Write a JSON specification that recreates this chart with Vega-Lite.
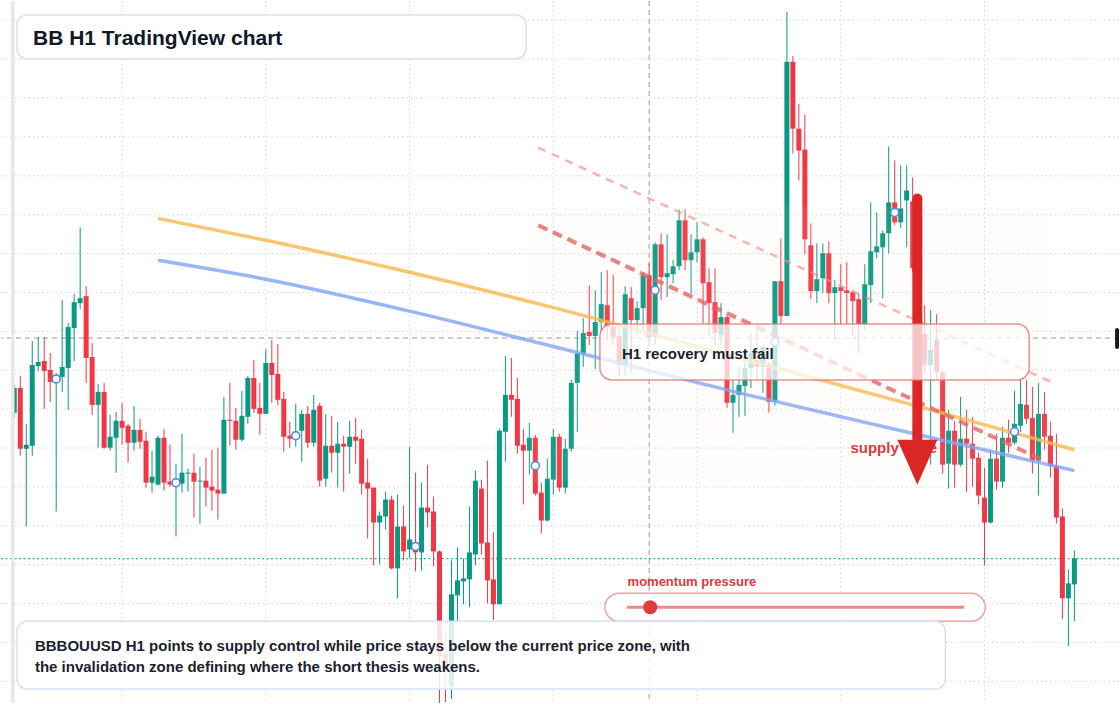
{
  "$schema": "https://vega.github.io/schema/vega-lite/v6.json",
  "width": 1120,
  "height": 704,
  "autosize": {"type": "fit", "contains": "padding"},
  "padding": 0,
  "background": "#ffffff",
  "config": {"view": {"stroke": null}, "text": {"font": "Liberation Sans"}, "scale": {"continuousPadding": 0}},
  "datasets": {
    "candles": [
{"i":0,"o":391,"h":419,"l":386,"c":416},
{"i":1,"o":416,"h":428,"l":348,"c":355},
{"i":2,"o":355,"h":380,"l":277,"c":359},
{"i":3,"o":358,"h":463,"l":348,"c":439},
{"i":4,"o":438,"h":467,"l":433,"c":442},
{"i":5,"o":443,"h":467,"l":395,"c":433},
{"i":6,"o":434,"h":451,"l":402,"c":422},
{"i":7,"o":422,"h":431,"l":292,"c":428},
{"i":8,"o":427,"h":504,"l":412,"c":437},
{"i":9,"o":436,"h":481,"l":394,"c":477},
{"i":10,"o":476,"h":510,"l":443,"c":502},
{"i":11,"o":501,"h":577,"l":495,"c":506},
{"i":12,"o":508,"h":518,"l":421,"c":446},
{"i":13,"o":447,"h":461,"l":389,"c":399},
{"i":14,"o":399,"h":420,"l":356,"c":412},
{"i":15,"o":412,"h":421,"l":355,"c":356},
{"i":16,"o":356,"h":389,"l":353,"c":367},
{"i":17,"o":366,"h":392,"l":331,"c":383},
{"i":18,"o":383,"h":401,"l":359,"c":376},
{"i":19,"o":378,"h":380,"l":341,"c":361},
{"i":20,"o":361,"h":398,"l":353,"c":374},
{"i":21,"o":374,"h":385,"l":355,"c":362},
{"i":22,"o":363,"h":372,"l":316,"c":321},
{"i":23,"o":321,"h":353,"l":311,"c":327},
{"i":24,"o":319,"h":368,"l":318,"c":366},
{"i":25,"o":366,"h":375,"l":313,"c":321},
{"i":26,"o":322,"h":359,"l":317,"c":319},
{"i":27,"o":318,"h":340,"l":267,"c":324},
{"i":28,"o":320,"h":370,"l":311,"c":331},
{"i":29,"o":330,"h":335,"l":312,"c":331},
{"i":30,"o":331,"h":350,"l":286,"c":322},
{"i":31,"o":322,"h":337,"l":280,"c":323},
{"i":32,"o":323,"h":346,"l":297,"c":316},
{"i":33,"o":317,"h":354,"l":293,"c":313},
{"i":34,"o":314,"h":356,"l":284,"c":310},
{"i":35,"o":310,"h":407,"l":310,"c":384},
{"i":36,"o":384,"h":421,"l":358,"c":383},
{"i":37,"o":383,"h":396,"l":354,"c":364},
{"i":38,"o":364,"h":413,"l":362,"c":388},
{"i":39,"o":387,"h":428,"l":380,"c":426},
{"i":40,"o":426,"h":444,"l":391,"c":395},
{"i":41,"o":396,"h":421,"l":369,"c":390},
{"i":42,"o":390,"h":455,"l":390,"c":441},
{"i":43,"o":441,"h":464,"l":401,"c":429},
{"i":44,"o":430,"h":460,"l":399,"c":404},
{"i":45,"o":405,"h":412,"l":352,"c":367},
{"i":46,"o":368,"h":382,"l":356,"c":365},
{"i":47,"o":366,"h":400,"l":357,"c":372},
{"i":48,"o":373,"h":394,"l":342,"c":390},
{"i":49,"o":390,"h":398,"l":356,"c":361},
{"i":50,"o":361,"h":409,"l":357,"c":394},
{"i":51,"o":398,"h":401,"l":317,"c":323},
{"i":52,"o":325,"h":390,"l":317,"c":358},
{"i":53,"o":358,"h":388,"l":331,"c":351},
{"i":54,"o":351,"h":382,"l":316,"c":360},
{"i":55,"o":360,"h":368,"l":312,"c":357},
{"i":56,"o":357,"h":383,"l":330,"c":367},
{"i":57,"o":367,"h":386,"l":340,"c":363},
{"i":58,"o":365,"h":374,"l":309,"c":320},
{"i":59,"o":321,"h":345,"l":265,"c":315},
{"i":60,"o":316,"h":316,"l":238,"c":281},
{"i":61,"o":281,"h":292,"l":239,"c":288},
{"i":62,"o":287,"h":312,"l":274,"c":304},
{"i":63,"o":304,"h":308,"l":234,"c":235},
{"i":64,"o":235,"h":309,"l":205,"c":277},
{"i":65,"o":277,"h":298,"l":243,"c":252},
{"i":66,"o":254,"h":357,"l":245,"c":264},
{"i":67,"o":260,"h":331,"l":232,"c":251},
{"i":68,"o":251,"h":321,"l":233,"c":296},
{"i":69,"o":296,"h":339,"l":276,"c":291},
{"i":70,"o":292,"h":307,"l":237,"c":252},
{"i":71,"o":252,"h":253,"l":100,"c":147},
{"i":72,"o":149,"h":174,"l":101,"c":136},
{"i":73,"o":116,"h":243,"l":104,"c":209},
{"i":74,"o":208,"h":256,"l":181,"c":223},
{"i":75,"o":222,"h":245,"l":199,"c":225},
{"i":76,"o":224,"h":297,"l":196,"c":251},
{"i":77,"o":249,"h":333,"l":238,"c":323},
{"i":78,"o":315,"h":324,"l":249,"c":260},
{"i":79,"o":261,"h":343,"l":200,"c":223},
{"i":80,"o":224,"h":271,"l":183,"c":199},
{"i":81,"o":199,"h":375,"l":199,"c":373},
{"i":82,"o":372,"h":448,"l":342,"c":409},
{"i":83,"o":409,"h":446,"l":387,"c":404},
{"i":84,"o":405,"h":426,"l":350,"c":358},
{"i":85,"o":359,"h":375,"l":299,"c":353},
{"i":86,"o":353,"h":381,"l":329,"c":366},
{"i":87,"o":366,"h":369,"l":308,"c":310},
{"i":88,"o":311,"h":321,"l":270,"c":283},
{"i":89,"o":283,"h":345,"l":282,"c":325},
{"i":90,"o":324,"h":375,"l":309,"c":367},
{"i":91,"o":367,"h":370,"l":312,"c":316},
{"i":92,"o":316,"h":365,"l":310,"c":355},
{"i":93,"o":355,"h":424,"l":352,"c":421},
{"i":94,"o":421,"h":473,"l":372,"c":451},
{"i":95,"o":450,"h":486,"l":437,"c":471},
{"i":96,"o":472,"h":519,"l":459,"c":468},
{"i":97,"o":468,"h":514,"l":435,"c":482},
{"i":98,"o":482,"h":532,"l":472,"c":500},
{"i":99,"o":499,"h":534,"l":464,"c":477},
{"i":100,"o":477,"h":529,"l":459,"c":467},
{"i":101,"o":468,"h":474,"l":427,"c":439},
{"i":102,"o":439,"h":518,"l":428,"c":510},
{"i":103,"o":506,"h":517,"l":432,"c":484},
{"i":104,"o":484,"h":503,"l":469,"c":496},
{"i":105,"o":496,"h":532,"l":474,"c":529},
{"i":106,"o":529,"h":541,"l":459,"c":467},
{"i":107,"o":467,"h":562,"l":459,"c":560},
{"i":108,"o":560,"h":571,"l":504,"c":527},
{"i":109,"o":527,"h":570,"l":507,"c":531},
{"i":110,"o":530,"h":544,"l":521,"c":538},
{"i":111,"o":538,"h":595,"l":534,"c":584},
{"i":112,"o":584,"h":595,"l":534,"c":544},
{"i":113,"o":544,"h":570,"l":510,"c":552},
{"i":114,"o":552,"h":582,"l":542,"c":565},
{"i":115,"o":565,"h":567,"l":481,"c":521},
{"i":116,"o":522,"h":536,"l":468,"c":501},
{"i":117,"o":502,"h":536,"l":459,"c":471},
{"i":118,"o":469,"h":501,"l":459,"c":487},
{"i":119,"o":487,"h":489,"l":396,"c":401},
{"i":120,"o":401,"h":424,"l":371,"c":409},
{"i":121,"o":409,"h":437,"l":387,"c":419},
{"i":122,"o":418,"h":442,"l":388,"c":436},
{"i":123,"o":436,"h":471,"l":416,"c":451},
{"i":124,"o":444,"h":476,"l":424,"c":437},
{"i":125,"o":437,"h":459,"l":411,"c":457},
{"i":126,"o":440,"h":442,"l":391,"c":402},
{"i":127,"o":402,"h":523,"l":398,"c":523},
{"i":128,"o":523,"h":566,"l":479,"c":488},
{"i":129,"o":488,"h":793,"l":488,"c":743},
{"i":130,"o":743,"h":749,"l":651,"c":676},
{"i":131,"o":676,"h":701,"l":624,"c":654},
{"i":132,"o":655,"h":690,"l":550,"c":565},
{"i":133,"o":559,"h":581,"l":505,"c":513},
{"i":134,"o":513,"h":561,"l":501,"c":525},
{"i":135,"o":526,"h":561,"l":511,"c":551},
{"i":136,"o":551,"h":563,"l":501,"c":511},
{"i":137,"o":511,"h":524,"l":464,"c":517},
{"i":138,"o":517,"h":540,"l":479,"c":513},
{"i":139,"o":514,"h":542,"l":479,"c":511},
{"i":140,"o":512,"h":514,"l":469,"c":503},
{"i":141,"o":505,"h":511,"l":451,"c":480},
{"i":142,"o":479,"h":540,"l":474,"c":520},
{"i":143,"o":519,"h":602,"l":501,"c":553},
{"i":144,"o":552,"h":592,"l":546,"c":558},
{"i":145,"o":557,"h":574,"l":506,"c":571},
{"i":146,"o":571,"h":658,"l":551,"c":602},
{"i":147,"o":602,"h":644,"l":579,"c":582},
{"i":148,"o":582,"h":639,"l":576,"c":596},
{"i":149,"o":604,"h":639,"l":557,"c":614},
{"i":150,"o":603,"h":627,"l":532,"c":536},
{"i":151,"o":536,"h":542,"l":459,"c":470},
{"i":152,"o":470,"h":499,"l":431,"c":439},
{"i":153,"o":439,"h":494,"l":339,"c":454},
{"i":154,"o":464,"h":490,"l":424,"c":432},
{"i":155,"o":432,"h":433,"l":330,"c":339},
{"i":156,"o":340,"h":394,"l":315,"c":373},
{"i":157,"o":373,"h":383,"l":316,"c":339},
{"i":158,"o":339,"h":407,"l":337,"c":365},
{"i":159,"o":365,"h":394,"l":312,"c":360},
{"i":160,"o":360,"h":387,"l":317,"c":345},
{"i":161,"o":346,"h":351,"l":299,"c":308},
{"i":162,"o":306,"h":336,"l":238,"c":281},
{"i":163,"o":281,"h":354,"l":280,"c":345},
{"i":164,"o":345,"h":370,"l":314,"c":322},
{"i":165,"o":322,"h":377,"l":316,"c":366},
{"i":166,"o":366,"h":384,"l":351,"c":361},
{"i":167,"o":361,"h":413,"l":359,"c":380},
{"i":168,"o":378,"h":424,"l":372,"c":400},
{"i":169,"o":399,"h":424,"l":380,"c":385},
{"i":170,"o":386,"h":417,"l":330,"c":343},
{"i":171,"o":343,"h":421,"l":308,"c":390},
{"i":172,"o":390,"h":412,"l":354,"c":367},
{"i":173,"o":368,"h":382,"l":326,"c":338},
{"i":174,"o":338,"h":370,"l":280,"c":286},
{"i":175,"o":287,"h":295,"l":184,"c":205},
{"i":176,"o":205,"h":234,"l":157,"c":220},
{"i":177,"o":219,"h":253,"l":182,"c":245}
    ]
  },
  "layer": [
    {
      "data": {"values": [{"gy":784.7},{"gy":745.7},{"gy":706.7},{"gy":667.7},{"gy":628.7},{"gy":589.7},{"gy":550.7},{"gy":511.7},{"gy":472.7},{"gy":433.7},{"gy":394.7},{"gy":355.7},{"gy":316.7},{"gy":277.7},{"gy":238.7},{"gy":199.7},{"gy":160.7},{"gy":121.7}]},
      "mark": {"type": "rule", "color": "#d2d2d2", "strokeWidth": 1, "strokeDash": [1.5, 3]},
      "encoding": {"y": {"field": "gy", "type": "quantitative", "scale": {"domain": [100, 804], "nice": false, "zero": false, "padding": 0}, "axis": null}}
    },
    {
      "data": {"values": [{"gx":18},{"gx":42},{"gx":66},{"gx":90},{"gx":114},{"gx":138},{"gx":162}]},
      "mark": {"type": "rule", "color": "#d2d2d2", "strokeWidth": 1, "strokeDash": [1.5, 3]},
      "encoding": {"x": {"field": "gx", "type": "quantitative", "scale": {"domain": [-2.2167, 184.45], "nice": false, "zero": false, "padding": 0}, "axis": null}}
    },
    {
      "data": {"values": [{"cy": 466}]},
      "mark": {"type": "rule", "color": "#9a9a9a", "strokeWidth": 1, "strokeDash": [5, 4]},
      "encoding": {"y": {"field": "cy", "type": "quantitative", "scale": {"domain": [100, 804], "nice": false, "zero": false, "padding": 0}, "axis": null}}
    },
    {
      "data": {"values": [{"cx": 106}]},
      "mark": {"type": "rule", "color": "#9a9a9a", "strokeWidth": 1, "strokeDash": [5, 4]},
      "encoding": {"x": {"field": "cx", "type": "quantitative", "scale": {"domain": [-2.2167, 184.45], "nice": false, "zero": false, "padding": 0}, "axis": null}}
    },
    {
      "data": {"values": [{"py": 244.7}]},
      "mark": {"type": "rule", "color": "#089981", "strokeWidth": 1, "strokeDash": [2, 2.5]},
      "encoding": {"y": {"field": "py", "type": "quantitative", "scale": {"domain": [100, 804], "nice": false, "zero": false, "padding": 0}, "axis": null}}
    },
    {
      "data": {"name": "candles"},
      "mark": {"type": "rule", "strokeWidth": 1},
      "encoding": {
        "x": {"field": "i", "type": "quantitative", "scale": {"domain": [-2.2167, 184.45], "nice": false, "zero": false, "padding": 0}, "axis": null},
        "y": {"field": "l", "type": "quantitative", "scale": {"domain": [100, 804], "nice": false, "zero": false, "padding": 0}, "axis": null},
        "y2": {"field": "h"},
        "color": {"condition": {"test": "datum.c >= datum.o", "value": "#089981"}, "value": "#f23645"}
      }
    },
    {
      "data": {"name": "candles"},
      "mark": {"type": "bar", "size": 5},
      "encoding": {
        "x": {"field": "i", "type": "quantitative", "scale": {"domain": [-2.2167, 184.45], "nice": false, "zero": false, "padding": 0}, "axis": null},
        "y": {"field": "o", "type": "quantitative", "scale": {"domain": [100, 804], "nice": false, "zero": false, "padding": 0}, "axis": null},
        "y2": {"field": "c"},
        "color": {"condition": {"test": "datum.c >= datum.o", "value": "#089981"}, "value": "#f23645"}
      }
    },
    {
      "data": {"values": [{"x1": -0.55, "x2": 0.05, "y1": 100, "y2": 804}]},
      "mark": {"type": "rect", "color": "#e8e8eb"},
      "encoding": {
        "x": {"field": "x1", "type": "quantitative", "scale": {"domain": [-2.2167, 184.45], "nice": false, "zero": false, "padding": 0}, "axis": null},
        "x2": {"field": "x2"},
        "y": {"field": "y1", "type": "quantitative", "scale": {"domain": [100, 804], "nice": false, "zero": false, "padding": 0}, "axis": null},
        "y2": {"field": "y2"}
      }
    },
    {
      "data": {"values": [
        {"s":"ma","i":24,"p":586},{"s":"ma","i":42,"p":564},{"s":"ma","i":66,"p":532},{"s":"ma","i":91,"p":495},{"s":"ma","i":121,"p":446},{"s":"ma","i":150,"p":399},{"s":"ma","i":177,"p":354}
      ]},
      "mark": {"type": "line", "color": "#f7b84b", "opacity": 0.8, "strokeWidth": 3.5, "interpolate": "monotone"},
      "encoding": {
        "x": {"field": "i", "type": "quantitative", "scale": {"domain": [-2.2167, 184.45], "nice": false, "zero": false, "padding": 0}, "axis": null},
        "y": {"field": "p", "type": "quantitative", "scale": {"domain": [100, 804], "nice": false, "zero": false, "padding": 0}, "axis": null}
      }
    },
    {
      "data": {"values": [
        {"s":"mb","i":24,"p":544},{"s":"mb","i":42,"p":525},{"s":"mb","i":66,"p":493},{"s":"mb","i":91,"p":456},{"s":"mb","i":121,"p":411},{"s":"mb","i":151,"p":369},{"s":"mb","i":177,"p":333}
      ]},
      "mark": {"type": "line", "color": "#7ea2f5", "opacity": 0.8, "strokeWidth": 3.5, "interpolate": "monotone"},
      "encoding": {
        "x": {"field": "i", "type": "quantitative", "scale": {"domain": [-2.2167, 184.45], "nice": false, "zero": false, "padding": 0}, "axis": null},
        "y": {"field": "p", "type": "quantitative", "scale": {"domain": [100, 804], "nice": false, "zero": false, "padding": 0}, "axis": null}
      }
    },
    {
      "data": {"values": [{"i":87.45,"p":657},{"i":173.1,"p":422}]},
      "mark": {"type": "line", "color": "#f08c8c", "opacity": 0.65, "strokeWidth": 2.5, "strokeDash": [8, 7]},
      "encoding": {
        "x": {"field": "i", "type": "quantitative", "scale": {"domain": [-2.2167, 184.45], "nice": false, "zero": false, "padding": 0}, "axis": null},
        "y": {"field": "p", "type": "quantitative", "scale": {"domain": [100, 804], "nice": false, "zero": false, "padding": 0}, "axis": null}
      }
    },
    {
      "data": {"values": [{"i":87.5,"p":579},{"i":171.6,"p":344}]},
      "mark": {"type": "line", "color": "#e45c5c", "opacity": 0.8, "strokeWidth": 4, "strokeDash": [10, 6]},
      "encoding": {
        "x": {"field": "i", "type": "quantitative", "scale": {"domain": [-2.2167, 184.45], "nice": false, "zero": false, "padding": 0}, "axis": null},
        "y": {"field": "p", "type": "quantitative", "scale": {"domain": [100, 804], "nice": false, "zero": false, "padding": 0}, "axis": null}
      }
    },
    {
      "data": {"values": [{"i":7,"p":425},{"i":27,"p":321},{"i":47,"p":368},{"i":67,"p":257},{"i":87,"p":338},{"i":107,"p":514},{"i":127,"p":462},{"i":147,"p":592},{"i":167,"p":372}]},
      "mark": {"type": "point", "shape": "circle", "size": 64, "filled": true, "fill": "#ffffff", "stroke": "#4a7cf0", "strokeWidth": 1.5, "opacity": 1},
      "encoding": {
        "x": {"field": "i", "type": "quantitative", "scale": {"domain": [-2.2167, 184.45], "nice": false, "zero": false, "padding": 0}, "axis": null},
        "y": {"field": "p", "type": "quantitative", "scale": {"domain": [100, 804], "nice": false, "zero": false, "padding": 0}, "axis": null}
      }
    },
    {
      "data": {"values": [{"x1": 85.62, "x2": 173.3, "y1": 598, "y2": 322}]},
      "mark": {"type": "rect", "color": "#f3dccf", "opacity": 0.07, "cornerRadius": 8},
      "encoding": {
        "x": {"field": "x1", "type": "quantitative", "scale": {"domain": [-2.2167, 184.45], "nice": false, "zero": false, "padding": 0}, "axis": null},
        "x2": {"field": "x2"},
        "y": {"field": "y1", "type": "quantitative", "scale": {"domain": [100, 804], "nice": false, "zero": false, "padding": 0}, "axis": null},
        "y2": {"field": "y2"}
      }
    },
    {
      "data": {"values": [{"i": 139.6, "p": 356, "t": "supply zone"}]},
      "mark": {"type": "text", "align": "left", "baseline": "middle", "fontSize": 15, "fontWeight": "bold", "color": "#e0393e"},
      "encoding": {
        "x": {"field": "i", "type": "quantitative", "scale": {"domain": [-2.2167, 184.45], "nice": false, "zero": false, "padding": 0}, "axis": null},
        "y": {"field": "p", "type": "quantitative", "scale": {"domain": [100, 804], "nice": false, "zero": false, "padding": 0}, "axis": null},
        "text": {"field": "t"}
      }
    },
    {
      "data": {"values": [{"i": 150.78, "p1": 606, "p2": 356}]},
      "mark": {"type": "rule", "color": "#dc2626", "strokeWidth": 10, "strokeCap": "round"},
      "encoding": {
        "x": {"field": "i", "type": "quantitative", "scale": {"domain": [-2.2167, 184.45], "nice": false, "zero": false, "padding": 0}, "axis": null},
        "y": {"field": "p1", "type": "quantitative", "scale": {"domain": [100, 804], "nice": false, "zero": false, "padding": 0}, "axis": null},
        "y2": {"field": "p2"}
      }
    },
    {
      "data": {"values": [{"i": 150.78, "p": 341.5}]},
      "mark": {"type": "point", "shape": "M-1,-1.125L1,-1.125L0,1.125Z", "size": 1600, "filled": true, "color": "#dc2626", "opacity": 1},
      "encoding": {
        "x": {"field": "i", "type": "quantitative", "scale": {"domain": [-2.2167, 184.45], "nice": false, "zero": false, "padding": 0}, "axis": null},
        "y": {"field": "p", "type": "quantitative", "scale": {"domain": [100, 804], "nice": false, "zero": false, "padding": 0}, "axis": null}
      }
    },
    {
      "data": {"values": [{"x1": 97.78, "x2": 169.45, "y1": 480, "y2": 424}]},
      "mark": {"type": "rect", "fill": "#ffffff", "fillOpacity": 0.74, "stroke": "#e57373", "strokeOpacity": 0.8, "strokeWidth": 1.5, "cornerRadius": 12},
      "encoding": {
        "x": {"field": "x1", "type": "quantitative", "scale": {"domain": [-2.2167, 184.45], "nice": false, "zero": false, "padding": 0}, "axis": null},
        "x2": {"field": "x2"},
        "y": {"field": "y1", "type": "quantitative", "scale": {"domain": [100, 804], "nice": false, "zero": false, "padding": 0}, "axis": null},
        "y2": {"field": "y2"}
      }
    },
    {
      "data": {"values": [{"i": 101.45, "p": 450, "t": "H1 recovery must fail"}]},
      "mark": {"type": "text", "align": "left", "baseline": "middle", "fontSize": 15, "fontWeight": "bold", "color": "#1b2230"},
      "encoding": {
        "x": {"field": "i", "type": "quantitative", "scale": {"domain": [-2.2167, 184.45], "nice": false, "zero": false, "padding": 0}, "axis": null},
        "y": {"field": "p", "type": "quantitative", "scale": {"domain": [100, 804], "nice": false, "zero": false, "padding": 0}, "axis": null},
        "text": {"field": "t"}
      }
    },
    {
      "data": {"values": [{"x1": 98.62, "x2": 162.12, "y1": 210, "y2": 182}]},
      "mark": {"type": "rect", "fill": "#ffffff", "fillOpacity": 0.92, "stroke": "#f0a3a3", "strokeWidth": 1.5, "cornerRadius": 14},
      "encoding": {
        "x": {"field": "x1", "type": "quantitative", "scale": {"domain": [-2.2167, 184.45], "nice": false, "zero": false, "padding": 0}, "axis": null},
        "x2": {"field": "x2"},
        "y": {"field": "y1", "type": "quantitative", "scale": {"domain": [100, 804], "nice": false, "zero": false, "padding": 0}, "axis": null},
        "y2": {"field": "y2"}
      }
    },
    {
      "data": {"values": [{"x1": 102.28, "x2": 158.6, "p": 196}]},
      "mark": {"type": "rule", "color": "#ee8a8a", "strokeWidth": 3},
      "encoding": {
        "x": {"field": "x1", "type": "quantitative", "scale": {"domain": [-2.2167, 184.45], "nice": false, "zero": false, "padding": 0}, "axis": null},
        "x2": {"field": "x2"},
        "y": {"field": "p", "type": "quantitative", "scale": {"domain": [100, 804], "nice": false, "zero": false, "padding": 0}, "axis": null}
      }
    },
    {
      "data": {"values": [{"i": 106.18, "p": 196}]},
      "mark": {"type": "point", "shape": "circle", "size": 196, "filled": true, "color": "#e23b3b", "opacity": 1},
      "encoding": {
        "x": {"field": "i", "type": "quantitative", "scale": {"domain": [-2.2167, 184.45], "nice": false, "zero": false, "padding": 0}, "axis": null},
        "y": {"field": "p", "type": "quantitative", "scale": {"domain": [100, 804], "nice": false, "zero": false, "padding": 0}, "axis": null}
      }
    },
    {
      "data": {"values": [{"i": 102.4, "p": 221, "t": "momentum pressure"}]},
      "mark": {"type": "text", "align": "left", "baseline": "middle", "fontSize": 13, "fontWeight": "bold", "color": "#e0393e"},
      "encoding": {
        "x": {"field": "i", "type": "quantitative", "scale": {"domain": [-2.2167, 184.45], "nice": false, "zero": false, "padding": 0}, "axis": null},
        "y": {"field": "p", "type": "quantitative", "scale": {"domain": [100, 804], "nice": false, "zero": false, "padding": 0}, "axis": null},
        "text": {"field": "t"}
      }
    },
    {
      "data": {"values": [{"x1": 0.45, "x2": 155.45, "y1": 182, "y2": 114}]},
      "mark": {"type": "rect", "fill": "#ffffff", "fillOpacity": 0.86, "stroke": "#d6e2f5", "strokeWidth": 1.5, "cornerRadius": 10},
      "encoding": {
        "x": {"field": "x1", "type": "quantitative", "scale": {"domain": [-2.2167, 184.45], "nice": false, "zero": false, "padding": 0}, "axis": null},
        "x2": {"field": "x2"},
        "y": {"field": "y1", "type": "quantitative", "scale": {"domain": [100, 804], "nice": false, "zero": false, "padding": 0}, "axis": null},
        "y2": {"field": "y2"}
      }
    },
    {
      "data": {"values": [
        {"i": 3.45, "p": 157, "t": "BBBOUUSD H1 points to supply control while price stays below the current price zone, with"},
        {"i": 3.45, "p": 136, "t": "the invalidation zone defining where the short thesis weakens."}
      ]},
      "mark": {"type": "text", "align": "left", "baseline": "middle", "fontSize": 15, "fontWeight": "bold", "color": "#1b2230"},
      "encoding": {
        "x": {"field": "i", "type": "quantitative", "scale": {"domain": [-2.2167, 184.45], "nice": false, "zero": false, "padding": 0}, "axis": null},
        "y": {"field": "p", "type": "quantitative", "scale": {"domain": [100, 804], "nice": false, "zero": false, "padding": 0}, "axis": null},
        "text": {"field": "t"}
      }
    },
    {
      "data": {"values": [{"x1": 0.45, "x2": 85.45, "y1": 790, "y2": 746}]},
      "mark": {"type": "rect", "fill": "#ffffff", "stroke": "#d6e2f5", "strokeWidth": 1.5, "cornerRadius": 10},
      "encoding": {
        "x": {"field": "x1", "type": "quantitative", "scale": {"domain": [-2.2167, 184.45], "nice": false, "zero": false, "padding": 0}, "axis": null},
        "x2": {"field": "x2"},
        "y": {"field": "y1", "type": "quantitative", "scale": {"domain": [100, 804], "nice": false, "zero": false, "padding": 0}, "axis": null},
        "y2": {"field": "y2"}
      }
    },
    {
      "data": {"values": [{"i": 3.12, "p": 760, "t": "BB H1 TradingView chart"}]},
      "mark": {"type": "text", "align": "left", "baseline": "alphabetic", "fontSize": 21, "fontWeight": "bold", "color": "#111827"},
      "encoding": {
        "x": {"field": "i", "type": "quantitative", "scale": {"domain": [-2.2167, 184.45], "nice": false, "zero": false, "padding": 0}, "axis": null},
        "y": {"field": "p", "type": "quantitative", "scale": {"domain": [100, 804], "nice": false, "zero": false, "padding": 0}, "axis": null},
        "text": {"field": "t"}
      }
    },
    {
      "data": {"values": [{"x1": 183.8, "x2": 184.45, "y1": 476, "y2": 455}]},
      "mark": {"type": "rect", "color": "#131722", "cornerRadius": 2, "opacity": 1},
      "encoding": {
        "x": {"field": "x1", "type": "quantitative", "scale": {"domain": [-2.2167, 184.45], "nice": false, "zero": false, "padding": 0}, "axis": null},
        "x2": {"field": "x2"},
        "y": {"field": "y1", "type": "quantitative", "scale": {"domain": [100, 804], "nice": false, "zero": false, "padding": 0}, "axis": null},
        "y2": {"field": "y2"}
      }
    }
  ]
}
